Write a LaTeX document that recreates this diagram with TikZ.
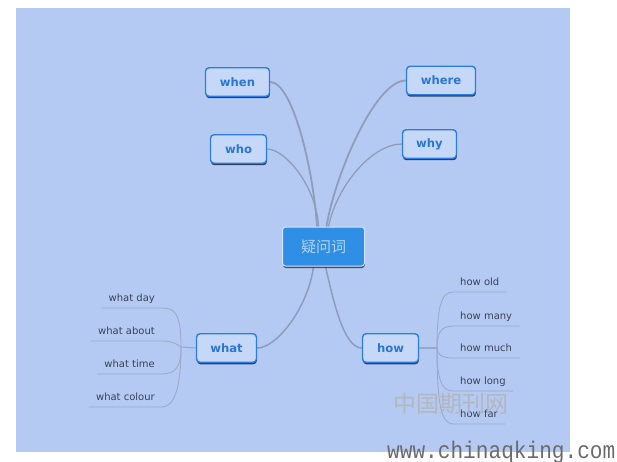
\documentclass[tikz,border=0pt]{standalone}
\usepackage{fontspec}
\setmainfont{DejaVu Sans}
\newfontfamily\cjk{Noto Sans CJK SC}
\newfontfamily\wmono{Liberation Mono}
\usetikzlibrary{shadows,backgrounds}
\definecolor{bgblue}{HTML}{B5CAF2}
\definecolor{boxfill}{HTML}{C5D8F7}
\definecolor{boxborder}{HTML}{2D7CE4}
\definecolor{boxtext}{HTML}{2A76D9}
\definecolor{boxshadow}{HTML}{1F3355}
\definecolor{cfill}{HTML}{2F8FE4}
\definecolor{cborder}{HTML}{D5E4F8}
\definecolor{ctext}{HTML}{B3D3F2}
\definecolor{linkcol}{HTML}{8D9EBB}
\definecolor{leafline}{HTML}{97A9C9}
\definecolor{leaftext}{HTML}{3A4159}
\definecolor{wmark}{HTML}{6B6B6B}
\tikzset{
  qbox/.style={draw=boxborder, line width=1.4pt, fill=boxfill, rounded corners=3.5pt,
    minimum height=28.5pt, inner sep=0pt, font=\fontsize{11.6}{13}\selectfont\bfseries,
    text=boxtext, drop shadow={shadow xshift=0.4pt, shadow yshift=-2pt, fill=boxshadow, opacity=0.9}},
  cbox/.style={draw=cborder, line width=1pt, fill=cfill, rounded corners=3pt,
    minimum width=82pt, minimum height=39pt, inner sep=0pt,
    font=\cjk\fontsize{15}{17}\selectfont, text=ctext,
    drop shadow={shadow xshift=0.4pt, shadow yshift=-2pt, fill=boxshadow, opacity=0.8}},
  leaf/.style={font=\fontsize{10}{12}\selectfont, text=leaftext, inner xsep=7pt, inner ysep=0pt,
    text height=7.5pt, text depth=6.5pt},
  mainlink/.style={draw=linkcol, line cap=round},
  leafedge/.style={draw=leafline, line width=0.8pt, line cap=round},
}
\begin{document}
\begin{tikzpicture}[x=1pt,y=-1pt]
\useasboundingbox (0,0) rectangle (617,462);
% nodes
\node[cbox] (c) at (323.5,246.5) {疑问词};
\node[qbox, minimum width=64pt] (when) at (237.5,82) {when};
\node[qbox, minimum width=69pt] (where) at (441,80.5) {where};
\node[qbox, minimum width=56pt] (who) at (238.5,149) {who};
\node[qbox, minimum width=54pt] (why) at (429.5,144) {why};
\node[qbox, minimum width=60pt] (what) at (226.5,348) {what};
\node[qbox, minimum width=56pt] (how) at (390.5,348) {how};
% leaves of what
\coordinate (J) at (181,347);
\node[leaf, anchor=south east] (wday) at (162,308) {what day};
\node[leaf, anchor=south east] (wabout) at (162,341) {what about};
\node[leaf, anchor=south east] (wtime) at (162,374) {what time};
\node[leaf, anchor=south east] (wcolour) at (162,407) {what colour};
% leaves of how
\coordinate (H) at (437,348);
\node[leaf, anchor=south west] (hold) at (453,292) {how old};
\node[leaf, anchor=south west] (hmany) at (453,326) {how many};
\node[leaf, anchor=south west] (hmuch) at (453,358) {how much};
\node[leaf, anchor=south west] (hlong) at (453,391) {how long};
\node[leaf, anchor=south west] (hfar) at (453,424) {how far};
\begin{scope}[on background layer]
\fill[white] (0,0) rectangle (617,462);
\fill[bgblue] (16,8) rectangle (570,452);
\draw[mainlink, line width=1.8pt] (when.east) .. controls +(22,0) and +(-4,-60) .. ([xshift=-6.5pt]c.north);
\draw[mainlink, line width=1.3pt] (who.east) .. controls +(18,0) and +(-2,-40) .. ([xshift=-5pt]c.north);
\draw[mainlink, line width=1.8pt] (where.west) .. controls +(-31,0) and +(8,-50) .. ([xshift=3pt]c.north);
\draw[mainlink, line width=1.3pt] (why.west) .. controls +(-30,0) and +(8,-40) .. ([xshift=5pt]c.north);
\draw[mainlink, line width=1.5pt] ([xshift=-10pt]c.south) .. controls +(-5,40) and +(20,0) .. (what.east);
\draw[mainlink, line width=1.5pt] ([xshift=2pt]c.south) .. controls +(8,35) and +(-18,0) .. (how.west);
\draw[leafedge, line width=1.1pt] (what.west) -- (J);
\draw[leafedge, line width=1.1pt] (how.east) -- (H);
\draw[leafedge] (wday.south west) -- (wday.south east) .. controls +(12,0) and +(0,-35) .. (J);
\draw[leafedge] (wabout.south west) -- (wabout.south east) .. controls +(10,0) and +(-4,-3) .. (J);
\draw[leafedge] (wtime.south west) -- (wtime.south east) .. controls +(12,0) and +(0,22) .. (J);
\draw[leafedge] (wcolour.south west) -- (wcolour.south east) .. controls +(12,0) and +(0,42) .. (J);
\draw[leafedge] (H) .. controls +(0,-40) and +(-12,0) .. (hold.south west) -- (hold.south east);
\draw[leafedge] (H) .. controls +(0,-15) and +(-12,0) .. (hmany.south west) -- (hmany.south east);
\draw[leafedge] (H) .. controls +(0,6) and +(-12,0) .. (hmuch.south west) -- (hmuch.south east);
\draw[leafedge] (H) .. controls +(0,30) and +(-12,0) .. (hlong.south west) -- (hlong.south east);
\draw[leafedge] (H) .. controls +(0,55) and +(-12,0) .. (hfar.south west) -- (hfar.south east);
\end{scope}
% watermark
\node[inner sep=0pt, text=gray!60, opacity=0.8, font=\cjk\fontsize{23}{25}\selectfont] (wm1) at (451,403.5) {中国期刊网};
\node[inner sep=0pt, anchor=base west, text=wmark, font=\wmono\fontsize{24}{26}\selectfont] (wm2) at (387,458) {\scalebox{0.88}[1]{www.chinaqking.com}};
\end{tikzpicture}
\end{document}
